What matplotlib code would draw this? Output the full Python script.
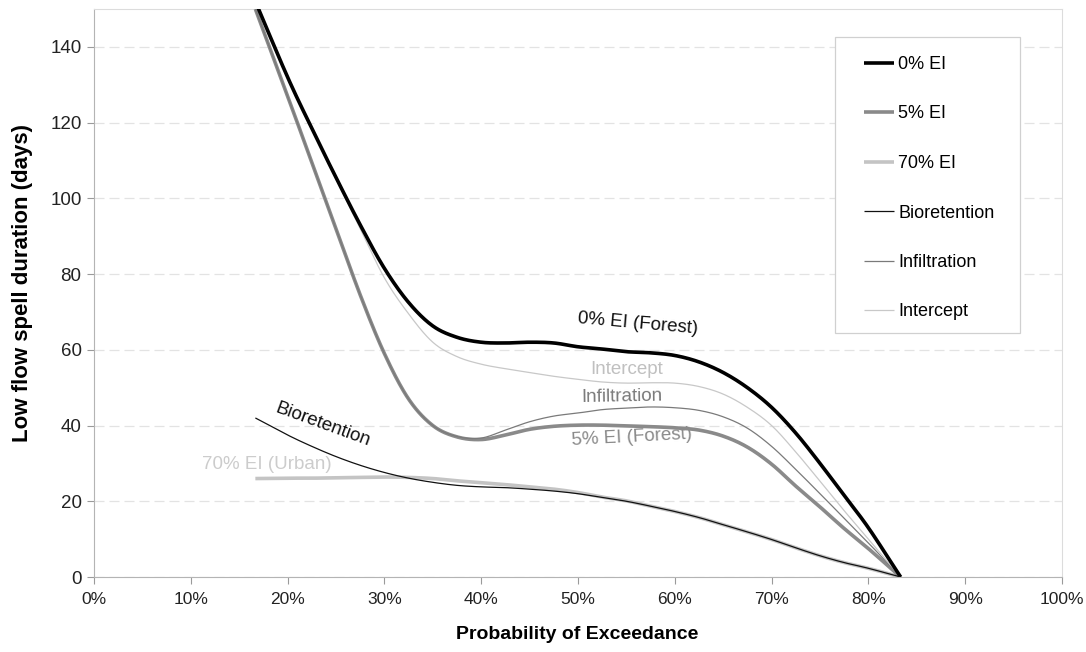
import numpy as np
import matplotlib
matplotlib.use("Agg")
import matplotlib.pyplot as plt
from matplotlib.ticker import FuncFormatter
from matplotlib.patches import Rectangle

plt.rcParams['font.family'] = ['Liberation Sans', 'DejaVu Sans']

# ---- data (probability of exceedance in %, duration in days) ----
x_main = [16.67, 20, 22.5, 25, 27.5, 30, 32.5, 35, 37.5, 40, 42.5, 45, 47.5, 50,
          52.5, 55, 57.5, 60, 62.5, 65, 67.5, 70, 72.5, 75, 77.5, 80, 83.33]

ei0 = [152, 132, 118.5, 105.5, 93, 81.5, 72.5, 66.3, 63.3, 62, 61.8, 62, 61.8, 60.8,
       60.2, 59.5, 59.2, 58.5, 56.8, 54, 50, 44.8, 38, 30, 21.5, 13, 0]
intercept = [152, 132, 118.5, 105.3, 92, 79, 69.5, 62, 58.2, 56.2, 55, 54, 53, 52.2,
             51.5, 51.2, 51.3, 51.2, 50.3, 48.3, 44.8, 40, 33, 25.3, 17.5, 10, 0]
ei5 = [150, 127, 109.5, 92, 74.5, 59, 47, 40, 37, 36.3, 37.5, 39, 39.8, 40.1,
       40.1, 39.9, 39.7, 39.4, 38.8, 37.2, 34.3, 29.8, 24, 18.5, 12.8, 7.5, 0]
infiltration = [150, 127, 109.5, 92, 74.5, 59, 47, 40, 37.1, 36.7, 38.8, 41, 42.5, 43.3,
                44.2, 44.6, 44.9, 44.7, 44, 42.3, 39.3, 34.5, 28.4, 22, 15.5, 9, 0]
bioretention = [42, 37.5, 34.5, 31.8, 29.5, 27.6, 26.1, 25, 24.2, 23.8, 23.6, 23.2, 22.7, 22,
                21, 20, 18.7, 17.3, 15.7, 13.8, 11.9, 9.9, 7.7, 5.6, 3.8, 2.3, 0]
ei70 = [26, 26.1, 26.1, 26.2, 26.3, 26.4, 26.3, 26, 25.4, 24.9, 24.4, 23.8, 23.2, 22.3,
        21.1, 20.1, 18.7, 17.3, 15.7, 13.8, 11.9, 9.9, 7.7, 5.6, 3.8, 2.3, 0]

x_ticks = [0, 10, 20, 30, 40, 50, 60, 70, 80, 90, 100]
y_ticks = [0, 20, 40, 60, 80, 100, 120, 140]


def smooth(x, y, n=24):
    """Catmull-Rom spline through the given points (like Excel's smoothed line)."""
    p = np.column_stack([x, y]).astype(float)
    p = np.vstack([2 * p[0] - p[1], p, 2 * p[-1] - p[-2]])
    out = []
    t = np.linspace(0, 1, n, endpoint=False)[:, None]
    for i in range(1, len(p) - 2):
        p0, p1, p2, p3 = p[i - 1], p[i], p[i + 1], p[i + 2]
        seg = 0.5 * ((2 * p1) + (-p0 + p2) * t + (2 * p0 - 5 * p1 + 4 * p2 - p3) * t ** 2
                     + (-p0 + 3 * p1 - 3 * p2 + p3) * t ** 3)
        out.append(seg)
    out.append(p[-2][None, :])
    out = np.vstack(out)
    return out[:, 0], out[:, 1]


W, H = 1086, 652
fig = plt.figure(figsize=(W / 100, H / 100), dpi=100)
ax = fig.add_axes([94 / W, 1 - 577 / H, (1062 - 94) / W, (577 - 9) / H])

series = [
    ("0% EI", ei0, "#000000", 2.6, 5),
    ("5% EI", ei5, "#8a8a8a", 2.6, 3),
    ("70% EI", ei70, "#c4c4c4", 2.6, 2),
    ("Bioretention", bioretention, "#111111", 0.9, 6),
    ("Infiltration", infiltration, "#7a7a7a", 0.9, 4),
    ("Intercept", intercept, "#c8c8c8", 0.9, 4),
]
handles = []
for name, ys, col, lw, z in series:
    sx, sy = smooth(x_main, ys)
    h, = ax.plot(sx, sy, color=col, lw=lw, zorder=z, label=name, solid_capstyle='butt')
    handles.append(h)

ax.set_xlim(0, 100)
ax.set_ylim(0, 150)
ax.set_xticks(x_ticks)
ax.set_yticks(y_ticks)
ax.xaxis.set_major_formatter(FuncFormatter(lambda v, p: f"{v:.0f}%"))
ax.tick_params(axis='both', direction='out', length=5, color='#9a9a9a',
               labelsize=12.5, labelcolor='#222222', pad=6)
ax.tick_params(axis='y', labelsize=13.5, pad=4)
ax.grid(axis='y', color='#e3e3e3', linestyle=(0, (8, 4)), linewidth=0.9)
ax.set_axisbelow(True)
for s in ['top', 'right']:
    ax.spines[s].set_color('#dcdcdc')
for s in ['left', 'bottom']:
    ax.spines[s].set_color('#b4b4b4')

ax.set_xlabel("Probability of Exceedance", fontsize=14, fontweight='bold')
ax.set_ylabel("Low flow spell duration (days)", fontsize=16, fontweight='bold')
ax.xaxis.set_label_coords((577 - 94) / 968, -(626 - 577) / 568)
ax.yaxis.set_label_coords(-(94 - 33) / 968, (577 - 283) / 568)

# legend frame drawn in pixel space, legend entries placed inside it
frame = Rectangle((835 / W, 1 - 333 / H), (1020 - 835) / W, (333 - 37) / H,
                  transform=fig.transFigure, facecolor='white', edgecolor='#d0d0d0',
                  linewidth=0.9, zorder=8)
ax.add_artist(frame)
frame.set_clip_on(False)
leg = ax.legend(handles=handles, loc='upper left',
                bbox_to_anchor=((864 - 94) / 968, (577 - 56) / 568),
                frameon=False, fontsize=13, labelspacing=1.8, handlelength=1.65,
                handletextpad=0.25, borderpad=0, borderaxespad=0)
leg.set_zorder(9)

# curve labels
ax.text(56.2, 66.8, "0% EI (Forest)", fontsize=13.5, color='#111111', rotation=-5,
        ha='center', va='center')
ax.text(55.0, 54.7, "Intercept", fontsize=13.5, color='#c0c0c0', rotation=0,
        ha='center', va='center')
ax.text(54.5, 47.5, "Infiltration", fontsize=13.5, color='#7a7a7a', rotation=1,
        ha='center', va='center')
ax.text(55.6, 37.0, "5% EI (Forest)", fontsize=13.5, color='#8a8a8a', rotation=3,
        ha='center', va='center')
ax.text(23.6, 40.1, "Bioretention", fontsize=13.5, color='#111111', rotation=-20,
        ha='center', va='center')
ax.text(17.9, 29.6, "70% EI (Urban)", fontsize=13.5, color='#cccccc', rotation=0,
        ha='center', va='center')

fig.savefig("out.png", dpi=100)
